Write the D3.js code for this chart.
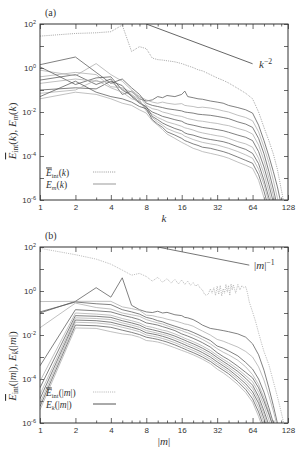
<!DOCTYPE html>
<html>
<head>
<meta charset="utf-8">
<script src="https://cdn.jsdelivr.net/npm/d3@7"></script>
<style>
body { margin: 0; background: #fff; }
</style>
</head>
<body>
<svg id="fig" width="298" height="449"></svg>
<script>
////////////////////////////////////////////////////////////////////////////////
// Data. Energies are kept as log10 values.

// shared wavenumber grid for the solid curves of both panels
var kGrid = [1,2,3,4,5,6,7,8,9,10,11,12,14,16,17,18,20,22,24,28,32,36,40,48,56,64,72,80,88,96,104,112,120];

// (a) interaction spectrum, dotted
var eIntA = [1.45,1.57,1.6,1.65,1.95,0.75,0.97,0.88,0.45,0.38,0.36,0.33,0.28,0.2,0.15,0.1,0.02,-0.08,-0.13,-0.3,-0.45,-0.56,-0.68,-0.93,-1.15,-1.4,-2.0,-2.7,-3.3,-3.9,-4.6,-5.5,-6.3];

// (a) E_m(k), one array per m
var eMA0 = [-0.55,-0.3,-0.75,-0.5,-1.2,-1.05,-1.4,-1.5,-1.45,-1.3,-1.35,-1.25,-1.3,-1.2,-1.05,-1.3,-1.35,-1.4,-1.42,-1.5,-1.55,-1.6,-1.7,-1.8,-1.9,-2.05,-2.6,-3.3,-4.0,-4.7,-5.4,-6.2];
var eMA1 = [-0.1,-0.35,0.2,-0.3,-0.6,-1.0,-1.3,-1.45,-1.55,-1.6,-1.55,-1.6,-1.65,-1.62,-1.7,-1.72,-1.75,-1.8,-1.78,-1.82,-1.88,-1.95,-2.0,-2.15,-2.25,-2.4,-2.9,-3.6,-4.3,-5.1,-5.9,-6.5];
var eMA2 = [0.15,0.5,-0.2,-0.7,-0.5,-0.9,-1.2,-1.6,-1.7,-1.75,-1.8,-1.85,-1.9,-1.95,-2.0,-2.02,-2.05,-2.1,-2.12,-2.15,-2.2,-2.25,-2.3,-2.45,-2.55,-2.7,-3.2,-3.9,-4.7,-5.5,-6.3];
var eMA3 = [-0.4,-0.2,-0.3,-0.85,-0.9,-1.1,-1.3,-1.7,-1.85,-1.9,-2.0,-2.05,-2.15,-2.2,-2.25,-2.3,-2.35,-2.4,-2.42,-2.48,-2.52,-2.58,-2.62,-2.75,-2.85,-3.0,-3.5,-4.2,-5.0,-5.8,-6.5];
var eMA4 = [0.05,-0.75,-0.45,-0.4,-1.0,-1.25,-1.55,-1.8,-2.0,-2.1,-2.2,-2.25,-2.35,-2.42,-2.5,-2.55,-2.6,-2.65,-2.7,-2.75,-2.8,-2.85,-2.92,-3.05,-3.15,-3.3,-3.8,-4.5,-5.3,-6.1];
var eMA5 = [-0.7,-0.5,-0.6,-0.65,-0.95,-1.2,-1.45,-1.9,-2.1,-2.25,-2.35,-2.45,-2.55,-2.65,-2.72,-2.75,-2.82,-2.9,-2.95,-3.02,-3.08,-3.12,-3.2,-3.35,-3.45,-3.6,-4.1,-4.8,-5.6,-6.4];
var eMA6 = [-1.0,-0.9,-0.95,-0.6,-0.8,-1.3,-1.6,-1.75,-2.2,-2.35,-2.5,-2.6,-2.75,-2.85,-2.95,-3.0,-3.05,-3.12,-3.18,-3.25,-3.3,-3.35,-3.42,-3.58,-3.7,-3.88,-4.35,-5.1,-5.9,-6.6];
var eMA7 = [-1.15,-1.0,-0.55,-0.9,-1.1,-1.4,-1.5,-1.95,-2.25,-2.45,-2.6,-2.75,-2.9,-3.0,-3.1,-3.15,-3.25,-3.32,-3.38,-3.45,-3.5,-3.58,-3.65,-3.8,-3.95,-4.1,-4.6,-5.3,-6.1];
var eMA8 = [-1.3,-0.6,-1.1,-1.3,-1.4,-1.55,-1.75,-1.85,-2.35,-2.55,-2.7,-2.9,-3.05,-3.2,-3.3,-3.35,-3.45,-3.52,-3.6,-3.65,-3.73,-3.8,-3.88,-4.05,-4.2,-4.33,-4.85,-5.6,-6.4];
var eMA9 = [-1.4,-1.1,-1.2,-1.4,-1.6,-1.7,-1.9,-2.05,-2.4,-2.6,-2.8,-3.0,-3.2,-3.38,-3.45,-3.52,-3.65,-3.72,-3.8,-3.88,-3.95,-4.02,-4.1,-4.28,-4.42,-4.56,-5.1,-5.9,-6.6];

// (a) k^-2 guide line
var refAk = [8, 64];
var refAv = [100, 1.56];

// (b) interaction spectrum vs |m|, dotted (own finer grid)
var mIntB = [1,2,3,4,5,6,7,8,9,10,11,12,13,14,15,16,17,18,19,20,21,22,23,24,25,26,27,28,29,30,31,32,33,34,35,36,37,38,39,40,41,42,43,44,46,48,50,52,54,56,58,60,64,68,72,76,80,88,96,104,112,120];
var eIntB = [1.94,1.65,1.45,1.22,0.95,0.72,0.8,0.66,0.45,0.62,0.4,0.56,0.36,0.53,0.32,0.5,0.3,0.45,0.26,0.38,0.22,0.3,0.12,0.05,-0.15,-0.2,-0.12,0.1,-0.1,0.15,-0.2,0.22,-0.15,0.25,-0.22,0.1,-0.1,0.3,-0.05,0.25,-0.2,0.32,0.05,0.28,-0.1,0.3,0.05,0.25,0.15,0.2,-0.1,-0.5,-0.95,-1.4,-1.9,-2.35,-2.75,-3.35,-4.1,-4.8,-5.5,-6.2];

// (b) E_k(|m|), one array per k
var eKB0  = [-1.0,-0.47,0.15,-0.28,0.6,-0.65,-0.85,-0.95,-0.98,-0.92,-1.0,-0.97,-1.08,-1.12,-1.2,-1.22,-1.3,-1.42,-1.55,-1.7,-1.75,-1.8,-1.85,-1.95,-2.1,-2.4,-2.9,-3.6,-4.4,-5.2,-6.0,-6.8];
var eKB1  = [-0.48,-0.47,-0.47,-0.47,-0.72,-0.8,-0.88,-1.1,-1.12,-1.18,-1.22,-1.28,-1.36,-1.45,-1.5,-1.52,-1.6,-1.72,-1.82,-2.0,-2.2,-2.28,-2.38,-2.55,-2.75,-3.0,-3.45,-4.05,-4.75,-5.45,-6.15];
var eKB2  = [-0.95,-0.5,-0.58,-0.62,-0.85,-0.95,-1.05,-1.2,-1.26,-1.35,-1.4,-1.48,-1.6,-1.7,-1.75,-1.78,-1.88,-1.98,-2.08,-2.25,-2.5,-2.6,-2.72,-2.95,-3.25,-3.55,-4.0,-4.6,-5.3,-6.0];
var eKB3  = [-1.67,-0.55,-0.75,-0.82,-1.0,-1.08,-1.15,-1.3,-1.38,-1.45,-1.5,-1.58,-1.7,-1.8,-1.86,-1.9,-2.0,-2.1,-2.2,-2.4,-2.62,-2.78,-2.9,-3.15,-3.45,-3.8,-4.25,-4.85,-5.5,-6.2];
var eKB4  = [-3.4,-0.85,-0.9,-0.95,-1.1,-1.2,-1.3,-1.45,-1.5,-1.55,-1.62,-1.68,-1.8,-1.95,-2.0,-2.05,-2.15,-2.25,-2.35,-2.55,-2.8,-2.98,-3.12,-3.42,-3.7,-3.95,-4.4,-5.0,-5.6,-6.2];
var eKB5  = [-4.1,-1.0,-1.05,-1.1,-1.25,-1.35,-1.45,-1.6,-1.65,-1.72,-1.78,-1.82,-1.95,-2.08,-2.15,-2.2,-2.3,-2.4,-2.5,-2.7,-2.92,-3.1,-3.25,-3.55,-3.85,-4.12,-4.6,-5.2,-5.85,-6.5];
var eKB6  = [-4.4,-1.12,-1.15,-1.2,-1.35,-1.45,-1.55,-1.7,-1.76,-1.82,-1.88,-1.93,-2.05,-2.18,-2.24,-2.3,-2.4,-2.5,-2.6,-2.8,-3.02,-3.2,-3.36,-3.66,-3.97,-4.28,-4.8,-5.45,-6.1];
var eKB7  = [-4.7,-1.22,-1.25,-1.3,-1.45,-1.55,-1.65,-1.8,-1.86,-1.92,-1.97,-2.02,-2.15,-2.28,-2.34,-2.4,-2.5,-2.6,-2.7,-2.9,-3.12,-3.3,-3.46,-3.78,-4.1,-4.42,-4.95,-5.6,-6.3];
var eKB8  = [-4.9,-1.32,-1.35,-1.42,-1.55,-1.65,-1.75,-1.9,-1.95,-2.0,-2.06,-2.12,-2.25,-2.38,-2.44,-2.5,-2.6,-2.7,-2.8,-3.0,-3.22,-3.4,-3.56,-3.9,-4.22,-4.58,-5.1,-5.8,-6.5];
var eKB9  = [-5.1,-1.42,-1.45,-1.52,-1.65,-1.75,-1.85,-2.0,-2.05,-2.1,-2.16,-2.22,-2.35,-2.48,-2.54,-2.6,-2.7,-2.8,-2.9,-3.1,-3.32,-3.5,-3.66,-4.0,-4.35,-4.72,-5.3,-6.0];
var eKB10 = [-5.25,-1.55,-1.58,-1.65,-1.78,-1.88,-1.98,-2.1,-2.15,-2.2,-2.26,-2.32,-2.45,-2.58,-2.64,-2.7,-2.8,-2.9,-3.0,-3.2,-3.42,-3.6,-3.76,-4.12,-4.48,-4.9,-5.5,-6.2];
var eKB11 = [-5.4,-1.68,-1.7,-1.85,-1.95,-2.0,-2.1,-2.25,-2.28,-2.32,-2.38,-2.45,-2.58,-2.7,-2.75,-2.8,-2.9,-3.0,-3.1,-3.3,-3.55,-3.72,-3.9,-4.25,-4.62,-5.05,-5.7,-6.4];

// (b) |m|^-1 guide line
var refBm = [10, 60];
var refBv = [100, 15];

// tick values
var xMajor = [1,2,4,8,16,32,64,128];
var xMinor = [3,5,6,7,10,12,14,20,24,28,40,48,56,80,96,112];
var yMajor = [1e2,1,1e-2,1e-4,1e-6];
var yMinor = [1e1,1e-1,1e-3,1e-5];

////////////////////////////////////////////////////////////////////////////////
var svg = d3.select('#fig');
var sans = "'Liberation Sans', Arial, sans-serif";
var serif = "'Liberation Serif', 'DejaVu Serif', serif";
var dark = '#575757', light = '#ababab';

function pairs(grid, logs) {
	return logs.map(function(e, i) { return [grid[i], Math.pow(10, e)]; });
}

// write a small LaTeX-like label with tspans
function mathText(t, parts, fs) {
	parts.forEach(function(p) {
		var s = t.append('tspan').text(p.t);
		if (p.i) s.attr('font-style', 'italic');
		if (p.s) s.attr('font-size', fs * p.s);
		if (p.dy) s.attr('dy', p.dy);
		if (p.bar) s.style('text-decoration', 'overline');
	});
}

function labelParts(sub, arg) {
	// e.g. E_int(k)
	var out = [{t: 'E', i: 1, bar: sub == 'int'}, {t: sub, s: 0.68, dy: 2.2, i: sub != 'int'}, {t: '(', dy: -2.2}];
	return out.concat(arg, [{t: ')'}]);
}

function drawPanel(p) {
	var x = d3.scaleLog().base(2).domain([1, 128]).range([40, 288]);
	var y = d3.scaleLog().domain([1e-6, 1e2]).range([p.bottom, p.top]);
	var x0 = x.range()[0], x1 = x.range()[1];

	svg.append('clipPath').attr('id', 'clip_' + p.id)
		.append('rect')
		.attr('x', x0).attr('y', p.top)
		.attr('width', x1 - x0).attr('height', p.bottom - p.top);

	// axes, ticks inward and mirrored
	function style(g) {
		g.select('.domain').remove();
		g.selectAll('line').attr('stroke', '#444').attr('stroke-width', 0.8);
		g.selectAll('text').attr('font-family', sans).attr('font-size', 8).attr('fill', '#333');
	}
	svg.append('g').attr('transform', 'translate(0,' + p.bottom + ')')
		.call(d3.axisBottom(x).tickValues(xMajor).tickFormat(d3.format('d')).tickSize(-5).tickSizeOuter(0).tickPadding(4))
		.call(style);
	svg.append('g').attr('transform', 'translate(0,' + p.bottom + ')')
		.call(d3.axisBottom(x).tickValues(xMinor).tickFormat('').tickSize(-2.5).tickSizeOuter(0))
		.call(style);
	svg.append('g').attr('transform', 'translate(0,' + p.top + ')')
		.call(d3.axisTop(x).tickValues(xMajor).tickFormat('').tickSize(-5).tickSizeOuter(0))
		.call(style);
	svg.append('g').attr('transform', 'translate(0,' + p.top + ')')
		.call(d3.axisTop(x).tickValues(xMinor).tickFormat('').tickSize(-2.5).tickSizeOuter(0))
		.call(style);

	var yl = svg.append('g').attr('transform', 'translate(' + x0 + ',0)')
		.call(d3.axisLeft(y).tickValues(yMajor).tickFormat(function() { return '10'; }).tickSize(-4).tickSizeOuter(0).tickPadding(4))
		.call(style);
	yl.selectAll('.tick text').append('tspan')
		.attr('dy', -3.5).attr('font-size', 5.5)
		.text(function(d) { return Math.round(Math.log10(d)); });
	svg.append('g').attr('transform', 'translate(' + x0 + ',0)')
		.call(d3.axisLeft(y).tickValues(yMinor).tickFormat('').tickSize(-4).tickSizeOuter(0))
		.call(style);
	svg.append('g').attr('transform', 'translate(' + x1 + ',0)')
		.call(d3.axisRight(y).tickValues(yMajor.concat(yMinor)).tickFormat('').tickSize(-4).tickSizeOuter(0))
		.call(style);

	// curves
	var line = d3.line().x(function(d) { return x(d[0]); }).y(function(d) { return y(d[1]); });
	var plot = svg.append('g').attr('clip-path', 'url(#clip_' + p.id + ')');

	p.solid.forEach(function(arr, i) {
		plot.append('path')
			.datum(pairs(kGrid, arr))
			.attr('d', line)
			.attr('fill', 'none')
			.attr('stroke', i % 2 ? light : dark)
			.attr('stroke-width', 0.75);
	});
	plot.append('path')
		.datum(pairs(p.intGrid, p.intVals))
		.attr('d', line)
		.attr('fill', 'none')
		.attr('stroke', p.intColor)
		.attr('stroke-width', 0.8)
		.attr('stroke-dasharray', '0.8,1.1');
	plot.append('path')
		.datum(p.refX.map(function(k, i) { return [k, p.refY[i]]; }))
		.attr('d', line)
		.attr('fill', 'none')
		.attr('stroke', p.refColor)
		.attr('stroke-width', 0.9);

	// frame
	svg.append('rect')
		.attr('x', x0).attr('y', p.top)
		.attr('width', x1 - x0).attr('height', p.bottom - p.top)
		.attr('fill', 'none').attr('stroke', '#333').attr('stroke-width', 1);

	// panel tag
	svg.append('text').attr('x', 45).attr('y', p.top - 8)
		.attr('font-family', serif).attr('font-size', 10).attr('fill', '#333')
		.text('(' + p.id + ')');

	// x label
	var xt = svg.append('text').attr('x', (x0 + x1) / 2).attr('y', p.bottom + 22)
		.attr('text-anchor', 'middle').attr('font-family', serif).attr('font-size', 11).attr('fill', '#333');
	mathText(xt, p.xLabel, 11);

	// y label
	var yt = svg.append('text')
		.attr('transform', 'translate(16,' + p.yLabelY + ') rotate(-90)')
		.attr('text-anchor', 'middle').attr('font-family', serif).attr('font-size', 11).attr('fill', '#333');
	mathText(yt, p.yLabel, 11);

	// guide line label
	var rt = svg.append('text').attr('x', p.refLabelX).attr('y', y(p.refY[1]) + 4)
		.attr('font-family', serif).attr('font-size', 11).attr('fill', '#333');
	mathText(rt, p.refLabel, 11);

	// legend
	p.legend.forEach(function(L, i) {
		var ly = p.legendY + i * 12;
		var t = svg.append('text').attr('x', 46).attr('y', ly + 3.5)
			.attr('font-family', serif).attr('font-size', 9.5).attr('fill', '#333');
		mathText(t, L.parts, 9.5);
		svg.append('line').attr('x1', 93).attr('x2', 116).attr('y1', ly).attr('y2', ly)
			.attr('stroke', L.color).attr('stroke-width', L.w)
			.attr('stroke-dasharray', L.dash || null);
	});
}

var argK = [{t: 'k', i: 1}];
var argM = [{t: '|'}, {t: 'm', i: 1}, {t: '|'}];

drawPanel({
	id: 'a', top: 24, bottom: 200,
	solid: [eMA0, eMA1, eMA2, eMA3, eMA4, eMA5, eMA6, eMA7, eMA8, eMA9],
	intGrid: kGrid, intVals: eIntA, intColor: '#808080',
	refX: refAk, refY: refAv, refColor: '#555',
	refLabelX: 259,
	refLabel: [{t: 'k', i: 1}, {t: '\u22122', s: 0.7, dy: -4}],
	xLabel: argK,
	yLabel: labelParts('int', argK).concat([{t: ', '}], labelParts('m', argK)),
	yLabelY: 131,
	legendY: 172,
	legend: [
		{parts: labelParts('int', argK), color: '#808080', w: 0.9, dash: '0.8,1.1'},
		{parts: labelParts('m', argK), color: '#b0b0b0', w: 1.3}
	]
});

drawPanel({
	id: 'b', top: 247, bottom: 423,
	solid: [eKB0, eKB1, eKB2, eKB3, eKB4, eKB5, eKB6, eKB7, eKB8, eKB9, eKB10, eKB11],
	intGrid: mIntB, intVals: eIntB, intColor: '#9a9a9a',
	refX: refBm, refY: refBv, refColor: '#666',
	refLabelX: 254,
	refLabel: argM.concat([{t: '\u22121', s: 0.7, dy: -4}]),
	xLabel: argM,
	yLabel: labelParts('int', argM).concat([{t: ', '}], labelParts('k', argM)),
	yLabelY: 366,
	legendY: 392,
	legend: [
		{parts: labelParts('int', argM), color: '#aaa', w: 1, dash: '0.8,1.1'},
		{parts: labelParts('k', argM), color: '#555', w: 1}
	]
});
</script>
</body>
</html>
